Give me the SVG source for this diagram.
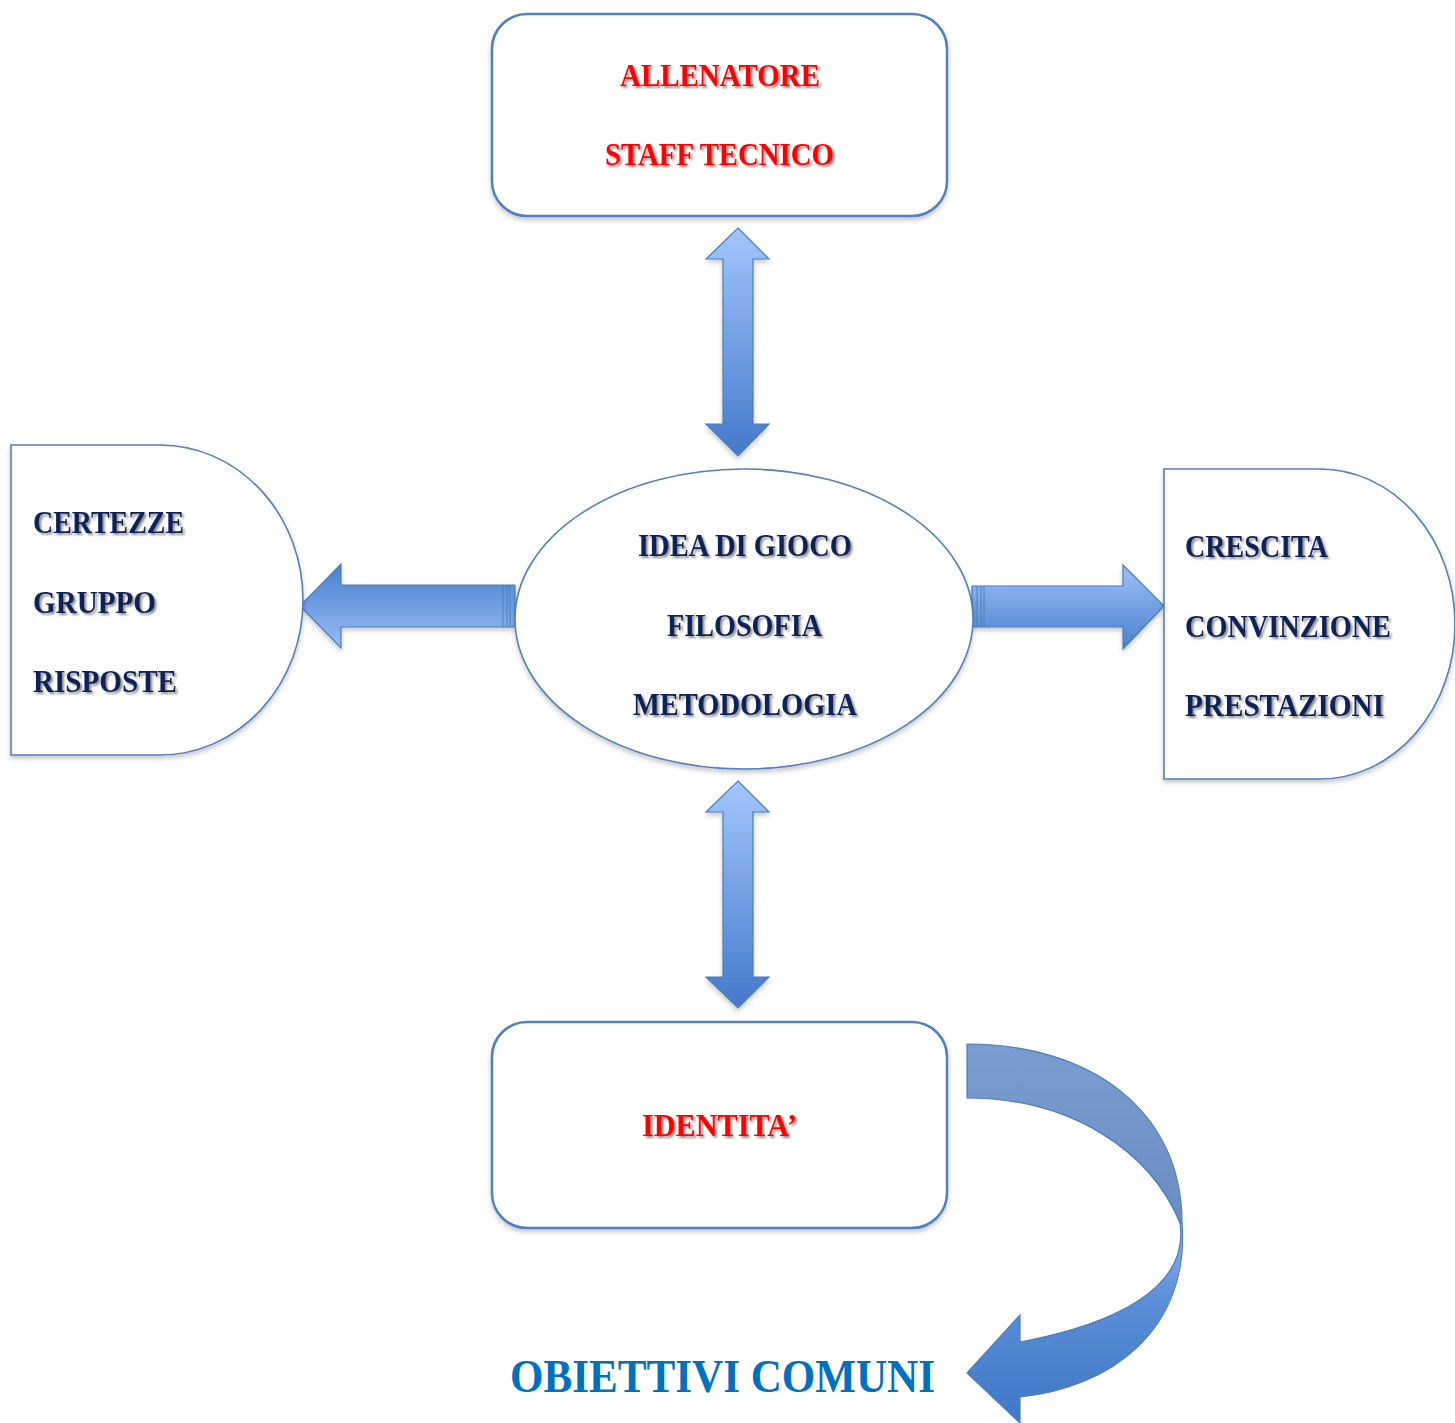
<svg xmlns="http://www.w3.org/2000/svg" width="1455" height="1423" viewBox="0 0 1455 1423">
<defs>
<filter id="sh" x="-10%" y="-10%" width="120%" height="125%"><feDropShadow dx="0" dy="3" stdDeviation="2.5" flood-color="#000" flood-opacity="0.22"/></filter>
<filter id="tsh" x="-10%" y="-20%" width="120%" height="150%"><feDropShadow dx="2" dy="2" stdDeviation="1.2" flood-color="#000" flood-opacity="0.45"/></filter>
<linearGradient id="gv" x1="0" y1="0" x2="0" y2="1"><stop offset="0" stop-color="#A3C6FF"/><stop offset="1" stop-color="#4479C9"/></linearGradient>
<linearGradient id="gl" x1="0" y1="0" x2="0" y2="1"><stop offset="0" stop-color="#4A80CC"/><stop offset="1" stop-color="#97BCF7"/></linearGradient>
<linearGradient id="gr" x1="0" y1="0" x2="0" y2="1"><stop offset="0" stop-color="#9DC1FA"/><stop offset="1" stop-color="#4A80CC"/></linearGradient>
<linearGradient id="gt" x1="0" y1="0" x2="0" y2="1"><stop offset="0" stop-color="#7A9DD1"/><stop offset="1" stop-color="#6A8CC2"/></linearGradient>
<linearGradient id="gb" x1="0" y1="0" x2="0" y2="1"><stop offset="0" stop-color="#8FB5F0"/><stop offset="0.4" stop-color="#5A8DD6"/><stop offset="1" stop-color="#3F78C6"/></linearGradient>
</defs>
<style>
.box{fill:#fff;stroke:#4F81BD;stroke-width:2.5}
.shp{fill:#fff;stroke:#4F81BD;stroke-width:1.6}
.arr{stroke:#4A7EBB;stroke-width:1.2}
.t{font-family:"Liberation Serif","DejaVu Serif",serif;font-weight:bold;font-size:31px}
.big{font-size:46px;fill:#0070C0}
.red{fill:#FF0000}
.navy{fill:#0F2457}
</style>

<g id="connectors">
<path class="arr" fill="url(#gv)" filter="url(#sh)" d="M738,228 L769,259 L753,259 L753,424 L769,424 L738,456 L706,424 L723,424 L723,259 L706,259 Z"/>
<path class="arr" fill="url(#gv)" filter="url(#sh)" d="M738,781 L769,812 L753,812 L753,977 L769,977 L738,1008 L706,977 L723,977 L723,812 L706,812 Z"/>
<path class="arr" fill="url(#gl)" filter="url(#sh)" d="M300,606 L341,564 L341,585 L515,585 L515,627 L341,627 L341,648 Z"/>
<path d="M503,585 V627 M507,585 V627 M510,585 V627" stroke="#4A7EBB" stroke-width="1"/>
<path class="arr" fill="url(#gr)" filter="url(#sh)" d="M972,586 L1123,586 L1123,565 L1164,606 L1123,649 L1123,627 L972,627 Z"/>
<path d="M977,586 V627 M981,586 V627 M984,586 V627" stroke="#4A7EBB" stroke-width="1"/>
<path class="arr" fill="url(#gt)" d="M967,1044 C1090,1044 1182,1110 1182,1223 L1180,1223 C1150,1150 1070,1098 967,1098 Z"/>
<path class="arr" fill="url(#gb)" d="M1180,1223 L1182,1223 C1190,1330 1110,1388 1020,1397 L1020,1423 L967,1373 L1020,1315 L1020,1342 C1110,1325 1190,1290 1180,1223 Z"/>
</g>

<g id="staff">
<rect class="box" filter="url(#sh)" x="492" y="14" width="455" height="202" rx="35"/>
<text class="t red" filter="url(#tsh)" x="720" y="86" text-anchor="middle" textLength="200" lengthAdjust="spacingAndGlyphs">ALLENATORE</text>
<text class="t red" filter="url(#tsh)" x="719.5" y="165" text-anchor="middle" textLength="229" lengthAdjust="spacingAndGlyphs">STAFF TECNICO</text>
</g>

<g id="left">
<path class="shp" filter="url(#sh)" d="M11,445 H160 A143,155 0 0 1 160,755 H11 Z"/>
<text class="t navy" filter="url(#tsh)" x="33" y="533" textLength="151" lengthAdjust="spacingAndGlyphs">CERTEZZE</text>
<text class="t navy" filter="url(#tsh)" x="33" y="613" textLength="123" lengthAdjust="spacingAndGlyphs">GRUPPO</text>
<text class="t navy" filter="url(#tsh)" x="33" y="692" textLength="144" lengthAdjust="spacingAndGlyphs">RISPOSTE</text>
</g>

<g id="center">
<ellipse class="shp" filter="url(#sh)" cx="744" cy="619" rx="229" ry="150"/>
<text class="t navy" filter="url(#tsh)" x="745" y="556" text-anchor="middle" textLength="214" lengthAdjust="spacingAndGlyphs">IDEA DI GIOCO</text>
<text class="t navy" filter="url(#tsh)" x="744.5" y="636" text-anchor="middle" textLength="155" lengthAdjust="spacingAndGlyphs">FILOSOFIA</text>
<text class="t navy" filter="url(#tsh)" x="745" y="715" text-anchor="middle" textLength="224" lengthAdjust="spacingAndGlyphs">METODOLOGIA</text>
</g>

<g id="right">
<path class="shp" filter="url(#sh)" d="M1164,469 H1320 A135,155 0 0 1 1320,779 H1164 Z"/>
<text class="t navy" filter="url(#tsh)" x="1185" y="557" textLength="143" lengthAdjust="spacingAndGlyphs">CRESCITA</text>
<text class="t navy" filter="url(#tsh)" x="1185" y="637" textLength="206" lengthAdjust="spacingAndGlyphs">CONVINZIONE</text>
<text class="t navy" filter="url(#tsh)" x="1185" y="716" textLength="199" lengthAdjust="spacingAndGlyphs">PRESTAZIONI</text>
</g>

<g id="identita">
<rect class="box" filter="url(#sh)" x="492" y="1022" width="455" height="206" rx="35"/>
<text class="t red" filter="url(#tsh)" x="719.5" y="1136" text-anchor="middle" textLength="155" lengthAdjust="spacingAndGlyphs">IDENTITA’</text>
</g>

<g id="obiettivi">
<text class="t big" x="722.5" y="1392" text-anchor="middle" textLength="425" lengthAdjust="spacingAndGlyphs">OBIETTIVI COMUNI</text>
</g>
</svg>
